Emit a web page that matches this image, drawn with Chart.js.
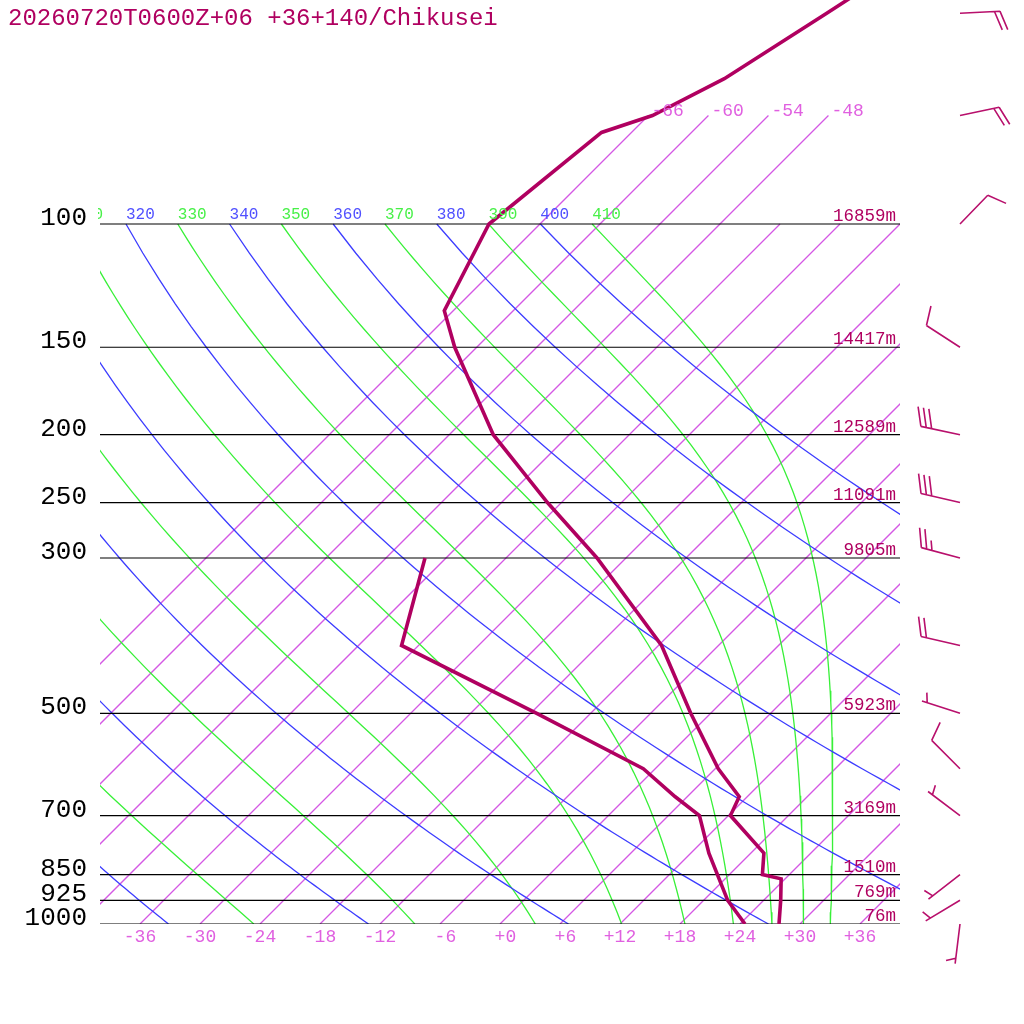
<!DOCTYPE html>
<html>
<head>
<meta charset="utf-8">
<title>Skew-T Chikusei</title>
<script src="https://cdn.jsdelivr.net/npm/chart.js@4.4.1/dist/chart.umd.min.js"></script>
<style>
  html, body { margin: 0; padding: 0; background: #fff; }
  canvas { display: block; }
</style>
</head>
<body>
<canvas id="skewt" width="1024" height="1024" style="width:1024px;height:1024px"></canvas>
<script>
// ============================================
// SOUNDING DATA
// ============================================
const title = '20260720T0600Z+06 +36+140/Chikusei';

const levels = [1000, 925, 862, 850, 792, 700, 658, 600, 500, 400, 300, 250, 200, 150, 133, 100, 74, 70, 62, 50, 30];
const temps  = [27.9, 25.7, 23.6, 21.3, 19.3, 12.2, 11.2, 6.3, -2.0, -11.7, -26.9, -37.4, -49.6, -62.2, -66.9, -71.1, -69.0, -65.6, -62.1, -58.4, -50.0];
const dewpts = [24.5, 20.4, null, null, 13.8, 9.1, 4.8, -1.2, -17.4, -37.7, -44.1, null, null, null, null, null, null, null, null, null, null];

// standard levels with geopotential height
const gridLevels = [100, 150, 200, 250, 300, 500, 700, 850, 925, 1000];
const heights    = [16859, 14417, 12589, 11091, 9805, 5923, 3169, 1510, 769, 76];

// winds (direction deg, speed kt)
const windLevels = [1000, 925, 850, 700, 600, 500, 400, 300, 250, 200, 150, 100, 70, 50];
const windDirs   = [187, 239, 232, 307, 315, 288, 283, 285, 283, 282, 303, 44, 78, 87];
const windSpeeds = [5, 5, 5, 5, 10, 5, 20, 25, 30, 30, 10, 10, 20, 20];

// background lines
const xTicks       = [-36, -30, -24, -18, -12, -6, 0, 6, 12, 18, 24, 30, 36];
const isotherms    = [-66, -60, -54, -48, -42, -36, -30, -24, -18, -12, -6, 0, 6, 12, 18, 24, 30, 36];
const topIsotherms = [-66, -60, -54, -48];
const dryThetas    = [240, 260, 280, 300, 320, 340, 360, 380, 400];
const moistThetas  = [250, 270, 290, 310, 330, 350, 370, 390, 410];

// ============================================
// THERMO HELPERS
// ============================================
const SKEW = 70;          // degrees per pressure decade (45 deg skew)
const KAPPA = 0.2857;
const P_TOP = 1000 * Math.pow(10, -924 / 700);
const ISO_TOP = 70;

function skewX(t, p) {
  return t + SKEW * Math.log10(1000 / p);
}

function dryLine(theta) {
  const pts = [];
  for (let p = 1000; p >= 100; p -= 10) {
    const t = theta * Math.pow(p / 1000, KAPPA) - 273.15;
    pts.push({ x: skewX(t, p), y: p });
  }
  return pts;
}

// pseudo-adiabatic lapse rate, dT/dlnp
function moistRate(T, p) {
  const tc = T - 273.15;
  const es = 6.112 * Math.exp(17.67 * tc / (tc + 243.5));
  const rs = 0.622 * es / (p - es);
  const Lv = 2.501e6, Rd = 287.04, cp = 1005.7;
  return (Rd * T + Lv * rs) / (cp + Lv * Lv * rs * 0.622 / (Rd * T * T));
}

function moistLine(theta) {
  const pts = [];
  let T = theta * Math.pow(0.1, KAPPA);
  let lnp = Math.log(100);
  const n = 300;
  const h = (Math.log(1000) - lnp) / n;
  for (let i = 0; i <= n; i++) {
    const p = Math.exp(lnp);
    if (i % 5 === 0 || i === n) pts.push({ x: skewX(T - 273.15, p), y: p });
    const k1 = moistRate(T, p);
    const k2 = moistRate(T + h * k1 / 2, Math.exp(lnp + h / 2));
    const k3 = moistRate(T + h * k2 / 2, Math.exp(lnp + h / 2));
    const k4 = moistRate(T + h * k3, Math.exp(lnp + h));
    T += h * (k1 + 2 * k2 + 2 * k3 + k4) / 6;
    lnp += h;
  }
  return pts;
}

function isoLine(t) {
  const top = topIsotherms.includes(t) ? ISO_TOP : 100;
  return [{ x: skewX(t, 1000), y: 1000 }, { x: skewX(t, top), y: top }];
}

function flatLine(p) {
  return [{ x: -40, y: p }, { x: 40, y: p }];
}

// ============================================
// DATASETS (index 0 is drawn on top)
// ============================================
const datasets = [];

function guide(data, color, width) {
  return {
    data: data,
    borderColor: color,
    backgroundColor: color,
    borderWidth: width,
    pointRadius: 0,
    showLine: true
  };
}

const tempPts = levels.map((p, i) => ({ x: skewX(temps[i], p), y: p }));
const dewPts = levels.map((p, i) => (dewpts[i] === null ? { x: null, y: p } : { x: skewX(dewpts[i], p), y: p }));

datasets.push({ data: tempPts, borderColor: '#b00060', backgroundColor: '#b00060', borderWidth: 3.6, pointRadius: 0, showLine: true });
datasets.push({ data: dewPts, borderColor: '#b00060', backgroundColor: '#b00060', borderWidth: 3.6, pointRadius: 0, showLine: true, spanGaps: true });

gridLevels.forEach(p => datasets.push(guide(flatLine(p), '#000000', 1.2)));
dryThetas.forEach(th => datasets.push(guide(dryLine(th), '#3c3cff', 1.3)));
moistThetas.forEach(th => datasets.push(guide(moistLine(th), '#38f038', 1.3)));
isotherms.forEach(t => datasets.push(guide(isoLine(t), '#d458e4', 1.3)));

// ============================================
// DECORATION PLUGIN (labels, barbs)
// ============================================
const MONO = '"Liberation Mono", "DejaVu Sans Mono", monospace';

function fmtTick(t) {
  const s = (t < 0 ? '-' : '+') + Math.abs(t);
  return s.padStart(3, ' ');
}

function drawBarb(ctx, bx, by, dir, spd) {
  const L = 40, full = 20, half = 10, gap = 5.5;
  const a = dir * Math.PI / 180;
  const ux = Math.sin(a), uy = -Math.cos(a);
  const tx = bx + ux * L, ty = by + uy * L;
  const ang = Math.atan2(uy, ux) + 70 * Math.PI / 180;
  const fx = Math.cos(ang), fy = Math.sin(ang);
  ctx.beginPath();
  ctx.moveTo(bx, by);
  ctx.lineTo(tx, ty);
  let rem = Math.round(spd / 5) * 5;
  let pos = 0;
  while (rem >= 10) {
    const sx = tx - ux * pos, sy = ty - uy * pos;
    ctx.moveTo(sx, sy);
    ctx.lineTo(sx + fx * full, sy + fy * full);
    pos += gap;
    rem -= 10;
  }
  if (rem >= 5) {
    if (pos === 0) pos = gap;
    const sx = tx - ux * pos, sy = ty - uy * pos;
    ctx.moveTo(sx, sy);
    ctx.lineTo(sx + fx * half, sy + fy * half);
  }
  ctx.stroke();
}

const decor = {
  id: 'decor',
  afterDraw(chart) {
    const { ctx, chartArea: area, scales: { x, y } } = chart;
    ctx.save();

    // title
    ctx.fillStyle = '#b00060';
    ctx.font = '24px ' + MONO;
    ctx.textAlign = 'left';
    ctx.textBaseline = 'alphabetic';
    ctx.fillText(title, 8, 25);

    // pressure labels
    ctx.fillStyle = '#000';
    ctx.font = '26px ' + MONO;
    ctx.textAlign = 'right';
    gridLevels.forEach(p => {
      ctx.fillText(String(p), 87, y.getPixelForValue(p) + 1);
    });

    // heights
    ctx.fillStyle = '#b00060';
    ctx.font = '17.5px ' + MONO;
    gridLevels.forEach((p, i) => {
      ctx.fillText(heights[i] + 'm', area.right - 4, y.getPixelForValue(p) - 3);
    });

    // temperature ticks
    ctx.fillStyle = '#e060e0';
    ctx.font = '18px ' + MONO;
    ctx.textAlign = 'center';
    xTicks.forEach(t => {
      ctx.fillText(fmtTick(t), x.getPixelForValue(skewX(t, 1000)), area.bottom + 18);
    });

    // isotherm labels at top
    ctx.textAlign = 'left';
    topIsotherms.forEach(t => {
      const px = x.getPixelForValue(skewX(t, ISO_TOP));
      const py = y.getPixelForValue(ISO_TOP);
      ctx.fillText(fmtTick(t), px + 3, py);
    });

    // theta labels at 100 hPa
    ctx.save();
    ctx.beginPath();
    ctx.rect(area.left - 2, 0, area.right - area.left + 2, 1024);
    ctx.clip();
    ctx.font = '16px ' + MONO;
    const y100 = y.getPixelForValue(100);
    dryThetas.forEach(th => {
      const t = th * Math.pow(0.1, KAPPA) - 273.15;
      ctx.fillStyle = '#5050ff';
      ctx.fillText(String(th), x.getPixelForValue(skewX(t, 100)), y100 - 5);
    });
    moistThetas.forEach(th => {
      const t = th * Math.pow(0.1, KAPPA) - 273.15;
      ctx.fillStyle = '#48f048';
      ctx.fillText(String(th), x.getPixelForValue(skewX(t, 100)), y100 - 5);
    });
    ctx.restore();

    // wind barbs
    ctx.strokeStyle = '#b8106c';
    ctx.lineWidth = 1.6;
    ctx.lineCap = 'butt';
    windLevels.forEach((p, i) => {
      drawBarb(ctx, 960, y.getPixelForValue(p), windDirs[i], windSpeeds[i]);
    });

    ctx.restore();
  }
};

// ============================================
// CHART
// ============================================
new Chart(document.getElementById('skewt').getContext('2d'), {
  type: 'scatter',
  data: { datasets: datasets },
  options: {
    responsive: false,
    animation: false,
    events: [],
    layout: { padding: { left: 100, right: 124, top: 0, bottom: 100 } },
    elements: { line: { tension: 0, borderJoinStyle: 'miter' } },
    plugins: { legend: { display: false }, tooltip: { enabled: false } },
    scales: {
      x: { type: 'linear', min: -40, max: 40, display: false },
      y: { type: 'logarithmic', min: P_TOP, max: 1000, reverse: true, display: false }
    }
  },
  plugins: [decor]
});
</script>
</body>
</html>
